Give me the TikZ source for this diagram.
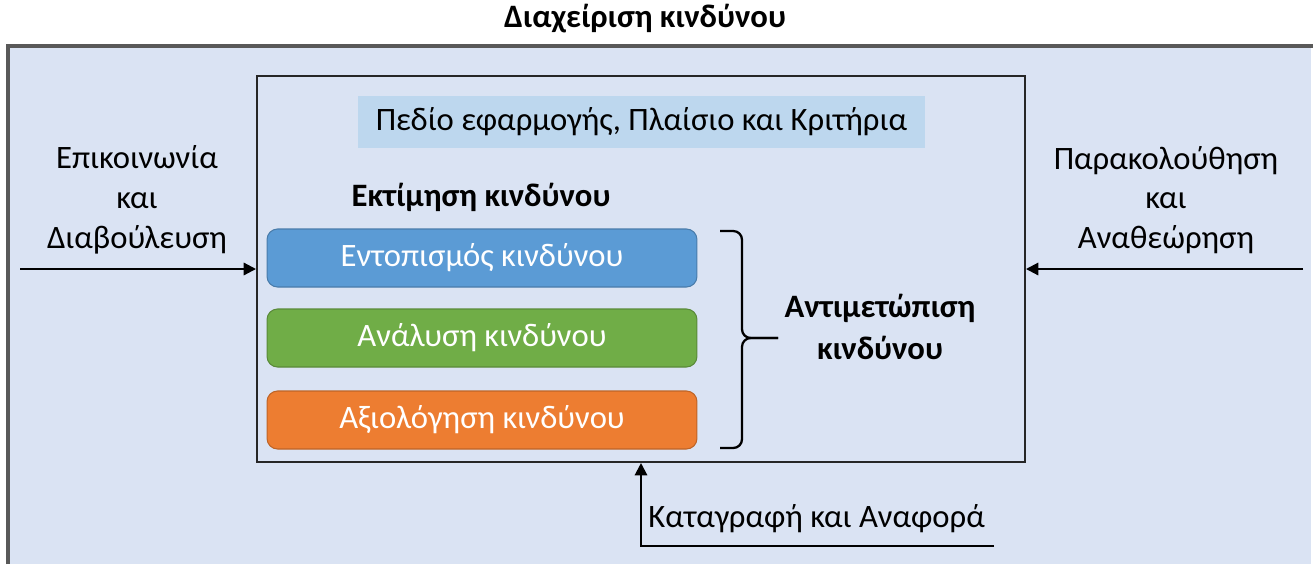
\documentclass[tikz,border=0pt]{standalone}
\usepackage{fontspec}
\setmainfont{Carlito}
\usetikzlibrary{arrows.meta}
\definecolor{bgblue}{HTML}{DAE3F3}
\definecolor{scopeblue}{HTML}{BDD7EE}
\definecolor{idblue}{HTML}{5B9BD5}
\definecolor{angreen}{HTML}{70AD47}
\definecolor{evorange}{HTML}{ED7D31}
\definecolor{framegray}{HTML}{595959}
\tikzset{
  px/.style={x=0.02cm,y=-0.02cm},
  txt/.style={font=\fontsize{18.6}{22.6}\selectfont, text=black, align=center, inner sep=0pt},
  boldtxt/.style={txt, font=\fontsize{18.6}{24.4}\selectfont\bfseries},
  stepbox/.style={rounded corners=6pt, draw=#1!80!black, fill=#1, line width=0.6pt, text=white,
    minimum width=8.6cm, minimum height=1.16cm, font=\fontsize{18.6}{22.6}\selectfont, inner sep=0pt,
    text height=0.98em, text depth=0em},
  conn/.style={line width=1.2pt, -{Triangle[length=7pt,width=7pt]}},
  bracket/.style={line width=1.3pt, rounded corners=5pt},
}
\begin{document}
\begin{tikzpicture}[px]
\useasboundingbox (0,0) rectangle (1313,566);
% outer region
\fill[bgblue] (8,46) rectangle (1311,564);
\draw[framegray, line width=1.8pt] (8,564) -- (8,46) -- (1313,46);
\node[boldtxt] (title) at (645,19) {Διαχείριση κινδύνου};
% inner frame
\node[draw=black!85, line width=1.2pt, minimum width=15.36cm, minimum height=7.72cm, inner sep=0pt] (frame) at (641,269) {};
\node[fill=scopeblue, minimum width=11.34cm, minimum height=1.04cm, txt] (scope) at (641.5,122) {Πεδίο εφαρμογής, Πλαίσιο και Κριτήρια};
\node[boldtxt] (assess) at (481,197) {Εκτίμηση κινδύνου};
\node[stepbox=idblue] (ident) at (482,258) {Εντοπισμός κινδύνου};
\node[stepbox=angreen] (anal) at (482,338) {Ανάλυση κινδύνου};
\node[stepbox=evorange] (eval) at (482,420) {Αξιολόγηση κινδύνου};
% bracket
\coordinate (brTop) at (720,231);
\coordinate (brBot) at (720,448);
\coordinate (brMid) at (742,338);
\coordinate (brTip) at (778,338);
\draw[bracket] (brTop) -- (brTop -| brMid) -- (brMid) -- (brTip);
\draw[bracket] (brBot) -- (brBot -| brMid) -- (brMid) -- (brTip);
\node[boldtxt] (treat) at (880,327) {Αντιμετώπιση\\κινδύνου};
% left input
\node[txt] (comm) at (137,200) {Επικοινωνία\\και\\Διαβούλευση};
\coordinate (commStart) at (20,269);
\draw[conn] (commStart) -- (frame.west |- commStart);
% right input
\node[txt] (monit) at (1166,200) {Παρακολούθηση\\και\\Αναθεώρηση};
\coordinate (monStart) at (1303,269);
\draw[conn] (monStart) -- (frame.east |- monStart);
% bottom input
\coordinate (recStart) at (994,546);
\coordinate (recCorner) at (641,546);
\draw[conn] (recStart) -- (recCorner) -- (frame.south -| recCorner);
\node[txt, anchor=west] (rec) at (648,519) {Καταγραφή και Αναφορά};
\end{tikzpicture}
\end{document}
